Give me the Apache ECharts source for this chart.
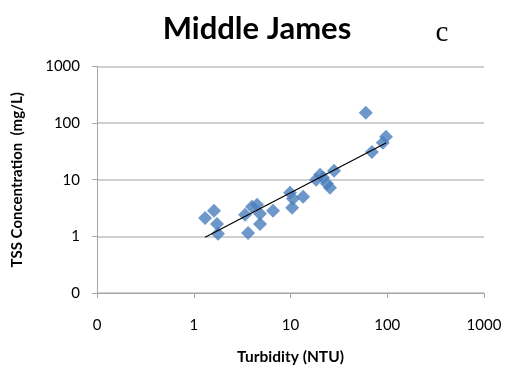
<!DOCTYPE html>
<html>
<head>
<meta charset="utf-8">
<script src="https://cdn.jsdelivr.net/npm/echarts@6/dist/echarts.min.js"></script>
<style>
  html, body { margin: 0; padding: 0; background: #fff; }
  #chart { width: 505px; height: 377px; }
</style>
</head>
<body>
<div id="chart"></div>
<script>
// Turbidity (NTU) readings and the matching TSS concentrations (mg/L)
var turbidity = [1.31, 1.62, 1.74, 1.78, 3.39, 3.64, 4.00, 4.51, 4.84, 4.84, 6.60,
                 9.9, 10.6, 10.4, 13.5, 18.4, 20.2, 21.7, 23.8, 25.6, 28.2,
                 60, 69.5, 90, 97];
var tss = [2.12, 2.83, 1.66, 1.11, 2.40, 1.15, 3.33, 3.61, 2.50, 1.66, 2.83,
           5.89, 4.61, 3.19, 5.0, 10.0, 12.3, 10.8, 8.5, 7.2, 14.4,
           153, 31, 45, 57.7];
var logTicks = [0.1, 1, 10, 100, 1000];

var points = turbidity.map(function (t, i) { return [t, tss[i]]; });

// Power-law trend line (least squares in log-log space), drawn across the data range
function powerFit(xs, ys) {
  var n = xs.length, sx = 0, sy = 0, sxx = 0, sxy = 0;
  for (var i = 0; i < n; i++) {
    var lx = Math.log10(xs[i]), ly = Math.log10(ys[i]);
    sx += lx; sy += ly; sxx += lx * lx; sxy += lx * ly;
  }
  var b = (n * sxy - sx * sy) / (n * sxx - sx * sx);
  var a = (sy - b * sx) / n;
  return { a: Math.pow(10, a), b: b };
}
var fit = powerFit(turbidity, tss);
var xMin = Math.min.apply(null, turbidity), xMax = Math.max.apply(null, turbidity);
var trend = [[xMin, fit.a * Math.pow(xMin, fit.b)], [xMax, fit.a * Math.pow(xMax, fit.b)]];

function tickLabel(v) { return v < 1 ? '0' : String(Math.round(v)); }

var chart = echarts.init(document.getElementById('chart'), null, { renderer: 'canvas' });
chart.setOption({
  animation: false,
  backgroundColor: '#ffffff',
  title: [
    { text: 'Middle James', left: 252, top: 8, textAlign: 'center',
      textStyle: { fontFamily: 'Lato', fontWeight: 'bold', fontSize: 31, color: '#000' } },
    { text: 'c', left: 437, top: 14, textAlign: 'center',
      textStyle: { fontFamily: 'Liberation Serif', fontWeight: 'normal', fontSize: 29, color: '#000' } }
  ],
  grid: { left: 97, right: 21, top: 66.5, bottom: 84 },
  xAxis: {
    type: 'log', logBase: 10, min: logTicks[0], max: logTicks[logTicks.length - 1],
    splitNumber: 4,
    name: 'Turbidity (NTU)', nameLocation: 'middle', nameGap: 56,
    nameTextStyle: { fontFamily: 'Lato', fontWeight: 'bold', fontSize: 15.5, color: '#000' },
    axisLine: { show: true, lineStyle: { color: '#a6a6a6', width: 1 } },
    axisTick: { show: true, inside: false, length: 5, lineStyle: { color: '#a6a6a6' } },
    axisLabel: { margin: 25, formatter: tickLabel, fontFamily: 'Lato', fontSize: 15, color: '#000' },
    splitLine: { show: false }
  },
  yAxis: {
    type: 'log', logBase: 10, min: logTicks[0], max: logTicks[logTicks.length - 1],
    splitNumber: 4,
    name: 'TSS Concentration  (mg/L)', nameLocation: 'middle', nameGap: 72, nameRotate: 90,
    nameTextStyle: { fontFamily: 'Lato', fontWeight: 'bold', fontSize: 15, color: '#000' },
    axisLine: { show: true, lineStyle: { color: '#a6a6a6', width: 1 } },
    axisTick: { show: true, inside: false, length: 5, lineStyle: { color: '#a6a6a6' } },
    axisLabel: { margin: 17, formatter: tickLabel, fontFamily: 'Lato', fontSize: 15, color: '#000' },
    splitLine: { show: true, lineStyle: { color: '#c0c0c0', width: 1.5 } }
  },
  series: [
    {
      type: 'scatter', data: points, symbol: 'diamond', symbolSize: 14,
      itemStyle: { color: '#4a7ebb' }, z: 2
    },
    {
      type: 'line', data: trend, symbol: 'none', silent: true,
      lineStyle: { color: '#000', width: 1.2 }, z: 3
    }
  ]
});
</script>
</body>
</html>
